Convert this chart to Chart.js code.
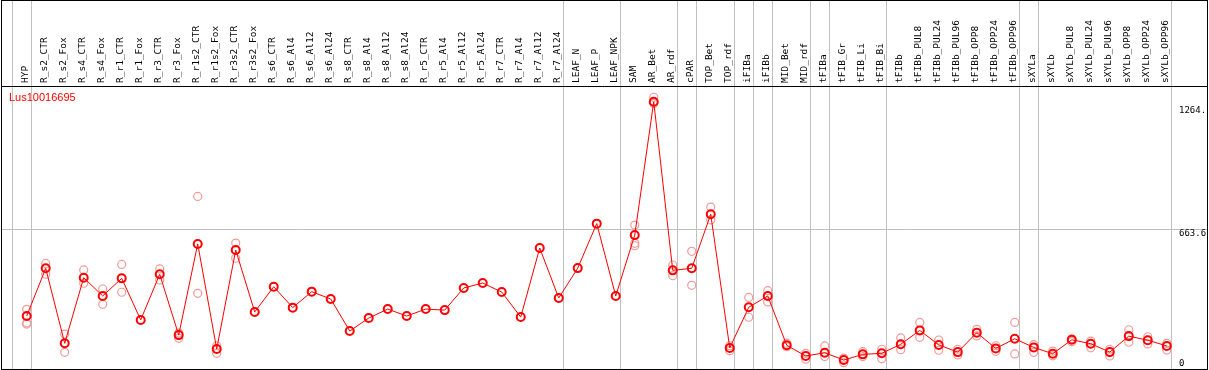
<!DOCTYPE html>
<html>
<head>
<meta charset="utf-8">
<script src="https://cdn.jsdelivr.net/npm/chart.js@4"></script>
<style>
  html, body { margin: 0; padding: 0; background: #fff; }
  #wrap { width: 1209px; height: 370px; }
</style>
</head>
<body>
<div id="wrap"><canvas id="expr-chart" width="1209" height="370"></canvas></div>
<script>
// sample names, in plot order
const categories = ['HYP', 'R_s2_CTR', 'R_s2_Fox', 'R_s4_CTR', 'R_s4_Fox', 'R_r1_CTR', 'R_r1_Fox',
    'R_r3_CTR', 'R_r3_Fox', 'R_r1s2_CTR', 'R_r1s2_Fox', 'R_r3s2_CTR', 'R_r3s2_Fox',
    'R_s6_CTR', 'R_s6_Al4', 'R_s6_Al12', 'R_s6_Al24', 'R_s8_CTR', 'R_s8_Al4', 'R_s8_Al12', 'R_s8_Al24',
    'R_r5_CTR', 'R_r5_Al4', 'R_r5_Al12', 'R_r5_Al24', 'R_r7_CTR', 'R_r7_Al4', 'R_r7_Al12', 'R_r7_Al24',
    'LEAF_N', 'LEAF_P', 'LEAF_NPK', 'SAM', 'AR_Bet', 'AR_rdf', 'cPAR', 'TOP_Bet', 'TOP_rdf',
    'iFIBa', 'iFIBb', 'MID_Bet', 'MID_rdf', 'tFIBa', 'tFIB_Gr', 'tFIB_Li', 'tFIB_Bi', 'tFIBb',
    'tFIBb_PUL8', 'tFIBb_PUL24', 'tFIBb_PUL96', 'tFIBb_OPP8', 'tFIBb_OPP24', 'tFIBb_OPP96',
    'sXYLa', 'sXYLb', 'sXYLb_PUL8', 'sXYLb_PUL24', 'sXYLb_PUL96', 'sXYLb_OPP8', 'sXYLb_OPP24', 'sXYLb_OPP96'];

// mean expression per sample
const meanVals = [239, 472, 106, 426, 337, 423, 220, 443, 146, 591, 78, 561, 259,
    382, 280, 358, 322, 166, 229, 273, 239, 273, 268, 376, 400, 356, 234, 571, 327,
    473, 690, 337, 634, 1285, 462, 472, 736, 83, 282, 337, 96, 44, 60, 24, 52, 57, 101,
    169, 98, 63, 158, 81, 128, 86, 55, 123, 104, 63, 141, 121, 93];

// replicates (null = no separate replicate visible)
const rep1 = [272, 496, 151, 464, 371, 491, null, 469, 156, 823, 94, 595, null,
    null, null, null, null, null, null, null, null, null, null, null, null, null, null, null, null,
    null, null, null, 683, 1307, 488, 555, 771, 70, 330, 363, 107, 57, 93, 11, 65, 77, 132,
    208, 122, 77, 174, 94, 208, 99, 68, 128, 117, 77, 172, 138, 106];
const rep2 = [206, 443, 62, 399, 296, 355, null, 415, 130, 350, 57, 521, null,
    null, null, null, null, null, null, null, null, null, null, null, null, null, null, null, null,
    null, null, null, 594, 1277, 436, 389, 708, 94, 233, 308, 89, 28, 41, 34, 41, 31, 75,
    135, 72, 49, 142, 67, 54, 62, 45, 114, 84, 44, 111, 103, 73];
const rep3 = [200, null, null, null, null, null, null, null, null, null, null, null, null,
    null, null, null, null, null, null, null, null, null, null, null, null, null, null, null, null,
    null, null, null, 582, null, null, null, null, null, null, null, null, null, null, null, null, null, null,
    null, null, null, null, null, null, null, null, null, null, null, null, null, null];

// last sample index of each group (0 = before the first sample)
const groupEnds = [0, 1, 29, 32, 35, 36, 38, 39, 40, 42, 43, 46, 53, 54, 61];

const yTicks = [0, 663.6, 1264];
const yTickText = ['0', '663.6', '1264.'];
const geneId = 'Lus10016695';

function toPoints(arr) {
    let out = [];
    arr.forEach((v, i) => { if (v !== null) out.push({ x: i + 1, y: v }); });
    return out;
}

const framePlugin = {
    id: 'frame',
    beforeDraw(chart) {
        const c = chart.ctx;
        c.save();
        c.fillStyle = '#fff';
        c.fillRect(0, 0, chart.width, chart.height);
        c.restore();
    },
    beforeDatasetsDraw(chart) {
        const c = chart.ctx;
        const x = chart.scales.x, y = chart.scales.y;
        const area = chart.chartArea;
        c.save();
        c.strokeStyle = '#c0c0c0';
        c.lineWidth = 1;
        for (let b of groupEnds) {
            let px = Math.round(x.getPixelForValue(b + 0.2)) + 0.5;
            c.beginPath();
            c.moveTo(px, 0);
            c.lineTo(px, area.bottom);
            c.stroke();
        }
        let py = Math.round(y.getPixelForValue(yTicks[1])) + 0.5;
        c.beginPath();
        c.moveTo(area.left, py);
        c.lineTo(area.right, py);
        c.stroke();
        c.restore();
    },
    afterDraw(chart) {
        const c = chart.ctx;
        const y = chart.scales.y;
        const area = chart.chartArea;
        c.save();
        c.strokeStyle = '#000';
        c.lineWidth = 1;
        c.strokeRect(1.5, 0.5, 1206, area.bottom);
        c.beginPath();
        c.moveTo(1, area.top + 0.5);
        c.lineTo(1208, area.top + 0.5);
        c.stroke();

        c.fillStyle = '#ff0000';
        c.font = '11px "Liberation Sans", Arial, sans-serif';
        c.textBaseline = 'alphabetic';
        c.fillText(geneId, 9, 101);

        c.fillStyle = '#000';
        c.font = '9px "DejaVu Sans Mono", monospace';
        c.textBaseline = 'top';
        yTicks.forEach((v, i) => {
            let py = y.getPixelForValue(v);
            if (v === 0) py -= 6;
            c.fillText(yTickText[i], 1179, py);
        });
        c.restore();
    }
};

var ctx = document.getElementById('expr-chart');
var chart = new Chart(ctx, {
    type: 'scatter',
    data: {
        datasets: [
            {
                label: 'mean',
                data: toPoints(meanVals),
                showLine: true,
                borderColor: '#ff0000',
                borderWidth: 1,
                pointRadius: 4,
                pointBorderWidth: 2,
                pointBorderColor: '#ff0000',
                pointBackgroundColor: 'rgba(0,0,0,0)',
                tension: 0
            },
            {
                label: 'rep1',
                data: toPoints(rep1),
                showLine: false,
                pointRadius: 4,
                pointBorderWidth: 1.2,
                pointBorderColor: '#f19a9a',
                pointBackgroundColor: 'rgba(0,0,0,0)'
            },
            {
                label: 'rep2',
                data: toPoints(rep2),
                showLine: false,
                pointRadius: 4,
                pointBorderWidth: 1.2,
                pointBorderColor: '#f19a9a',
                pointBackgroundColor: 'rgba(0,0,0,0)'
            },
            {
                label: 'rep3',
                data: toPoints(rep3),
                showLine: false,
                pointRadius: 4,
                pointBorderWidth: 1.2,
                pointBorderColor: '#f19a9a',
                pointBackgroundColor: 'rgba(0,0,0,0)'
            }
        ]
    },
    options: {
        responsive: false,
        animation: false,
        layout: { autoPadding: false, padding: { left: 1, right: 1, top: 0, bottom: 1 } },
        plugins: {
            legend: { display: false },
            tooltip: { enabled: false }
        },
        scales: {
            x: {
                type: 'linear',
                position: 'top',
                min: -0.353,
                max: 63.17,
                afterBuildTicks: (scale) => {
                    scale.ticks = categories.map((_, i) => ({ value: i + 1 }));
                },
                afterFit: (scale) => {
                    scale.height = 86;
                    scale.paddingLeft = 0;
                    scale.paddingRight = 0;
                },
                grid: { display: false, drawTicks: false },
                border: { display: false },
                ticks: {
                    autoSkip: false,
                    minRotation: 90,
                    maxRotation: 90,
                    padding: 3,
                    labelOffset: 10.2,
                    color: '#000',
                    font: { family: '"DejaVu Sans Mono", monospace', size: 9.5 },
                    callback: (v) => categories[v - 1] || ''
                }
            },
            y: {
                display: false,
                min: -19.5,
                max: 1361.8
            }
        }
    },
    plugins: [framePlugin]
});
</script>
</body>
</html>
